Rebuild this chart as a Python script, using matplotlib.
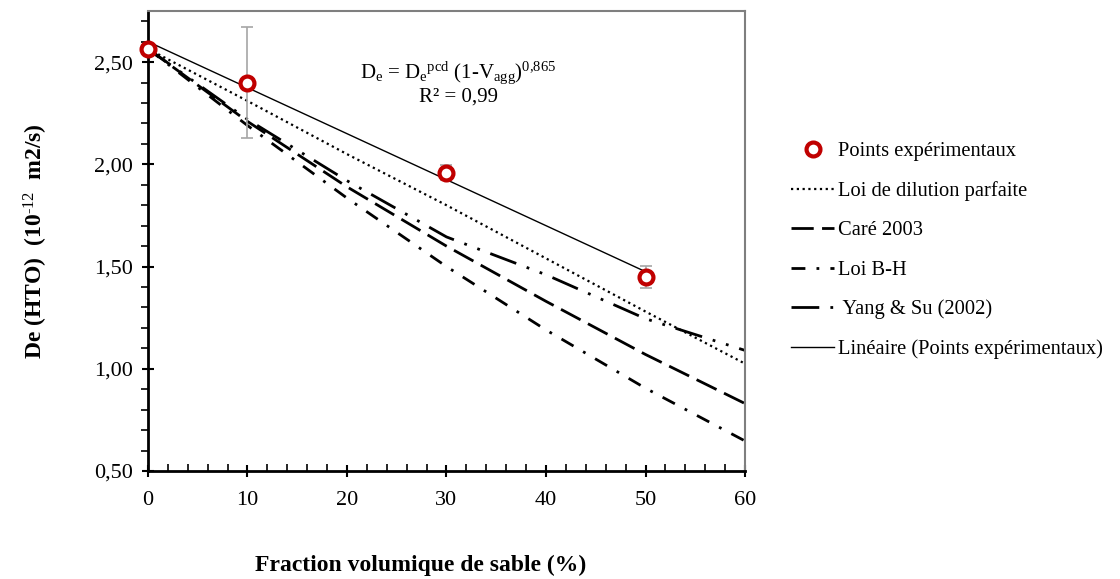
import matplotlib
matplotlib.use("Agg")
import matplotlib.pyplot as plt
from matplotlib.ticker import MultipleLocator, FuncFormatter

plt.rcParams['font.family'] = ['Liberation Serif', 'DejaVu Serif']
plt.rcParams['mathtext.fontset'] = 'custom'
plt.rcParams['mathtext.rm'] = 'Liberation Serif'
plt.rcParams['mathtext.it'] = 'Liberation Serif'
plt.rcParams['mathtext.bf'] = 'Liberation Serif:bold'

# experimental data
exp_x = [0, 10, 30, 50]
exp_y = [2.565, 2.40, 1.96, 1.45]
exp_err = [0.01, 0.27, 0.035, 0.055]

# model curves
model_x = [0, 10, 20, 30, 40, 50, 60]
dilution_y = [2.565, 2.31, 2.05, 1.80, 1.54, 1.28, 1.025]
care_y = [2.565, 2.21, 1.89, 1.60, 1.33, 1.07, 0.83]
bh_y = [2.565, 2.19, 1.835, 1.50, 1.19, 0.905, 0.647]
yang_y = [2.565, 2.22, 1.92, 1.645, 1.46, 1.245, 1.09]

# linear trendline of experimental points
trend_x = [0, 50]
trend_y = [2.60, 1.475]

fig = plt.figure(figsize=(11.2, 5.79), dpi=100)
ax = fig.add_axes([0.1321, 0.1865, 0.5331, 0.7945])

ax.errorbar(exp_x, exp_y, yerr=exp_err, fmt='none', ecolor='#A6A6A6',
            elinewidth=1.2, capsize=4, capthick=1.2, zorder=3)
h_exp, = ax.plot(exp_x, exp_y, linestyle='none', marker='o', markersize=10,
                 markerfacecolor='white', markeredgecolor='#C00000',
                 markeredgewidth=3, zorder=5, clip_on=False, label='Points expérimentaux')
h_dil, = ax.plot(model_x, dilution_y, color='black', lw=1.6,
                 linestyle=(0, (1, 1.6)), label='Loi de dilution parfaite')
h_care, = ax.plot(model_x, care_y, color='black', lw=2.0,
                  linestyle=(0, (8, 3)), label='Caré 2003')
h_bh, = ax.plot(model_x, bh_y, color='black', lw=2.0,
                linestyle=(0, (5, 4, 1, 4)), label='Loi B-H')
h_yang, = ax.plot(model_x, yang_y, color='black', lw=2.0,
                  linestyle=(0, (10, 4, 1, 4, 1, 4)), label=' Yang & Su (2002)')
h_lin, = ax.plot(trend_x, trend_y, color='black', lw=1.0,
                 label='Linéaire (Points expérimentaux)')

ax.set_xlim(0, 60)
ax.set_ylim(0.5, 2.75)
ax.xaxis.set_major_locator(MultipleLocator(10))
ax.xaxis.set_minor_locator(MultipleLocator(2))
ax.yaxis.set_major_locator(MultipleLocator(0.5))
ax.yaxis.set_minor_locator(MultipleLocator(0.1))
ax.yaxis.set_major_formatter(FuncFormatter(lambda v, p: f"{v:.2f}".replace('.', ',')))

for s in ['left', 'bottom']:
    ax.spines[s].set_linewidth(2)
    ax.spines[s].set_color('black')
for s in ['top', 'right']:
    ax.spines[s].set_linewidth(1.5)
    ax.spines[s].set_color('#7F7F7F')

ax.tick_params(axis='both', which='major', direction='inout', length=9, width=1.5,
               labelsize=16, pad=6, top=False, right=False)
ax.tick_params(axis='y', which='minor', direction='out', length=5, width=1.2, right=False)
ax.tick_params(axis='x', which='minor', direction='in', length=5, width=1.2, top=False)
ax.tick_params(axis='x', which='major', pad=10)

ax.set_xlabel('Fraction volumique de sable (%)', fontsize=17, fontweight='bold', labelpad=32)
ax.xaxis.label.set_x(0.456)
ax.set_ylabel('De (HTO)  (10$^{\\text{-12}}$  m2/s)', fontsize=17, fontweight='bold', labelpad=32)

ax.text(0.52, 0.865, r'D$_\mathrm{e}$ = D$_\mathrm{e}$$^\mathrm{pcd}$ (1-V$_\mathrm{agg}$)$^\mathrm{0{,}865}$',
        transform=ax.transAxes, ha='center', va='center', fontsize=15)
ax.text(0.52, 0.812, 'R² = 0,99', transform=ax.transAxes, ha='center', va='center', fontsize=15)

fig.legend(handles=[h_exp, h_dil, h_care, h_bh, h_yang, h_lin],
           loc='upper left', bbox_to_anchor=(0.690, 0.787), frameon=False,
           fontsize=14.8, handlelength=2.1, handletextpad=0.15, labelspacing=0.97)

fig.savefig('out.png', dpi=100)
